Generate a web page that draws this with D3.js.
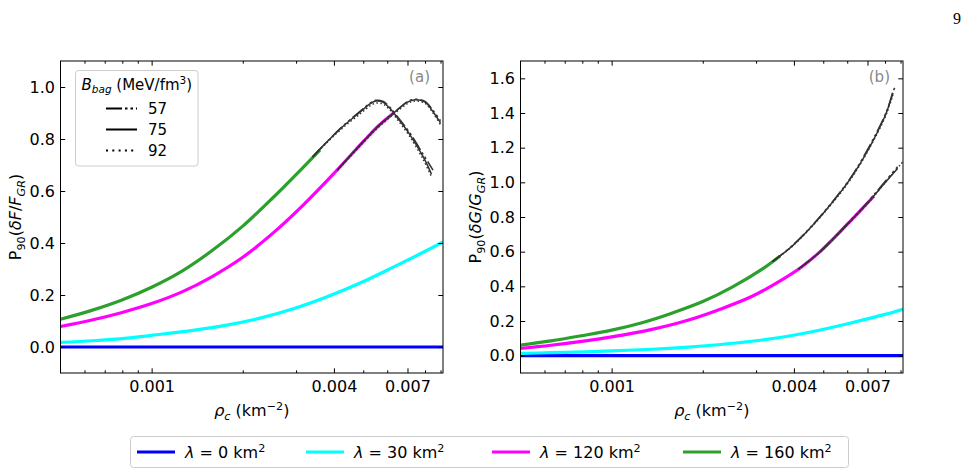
<!DOCTYPE html>
<html>
<head>
<meta charset="utf-8">
<script src="https://cdn.jsdelivr.net/npm/d3@7"></script>
<style>
  body { margin: 0; background: #fff; }
  svg { font-family: 'DejaVu Sans', sans-serif; }
</style>
</head>
<body>
<svg id="chart" width="969" height="476"></svg>
<script>
// ---- data ----
const lambdaLabels = ['0', '30', '120', '160'];
const bagLabels = ['57', '75', '92'];

const xMajorTicks = [0.001, 0.004, 0.007];
const xMajorLabels = ['0.001', '0.004', '0.007'];
const xMinorTicks = [0.0006, 0.0007, 0.0008, 0.0009, 0.002, 0.003, 0.005, 0.006, 0.008, 0.009];
const yTicksA = [0, 0.2, 0.4, 0.6, 0.8, 1.0];
const yTicksB = [0, 0.2, 0.4, 0.6, 0.8, 1.0, 1.2, 1.4, 1.6];

// panel (a): P90(dF/F_GR), coloured parts [rho_c, value]
const aLam0 = [[0.0005, 0], [0.00917, 0]];
const aLam30 = [[0.0005, 0.018], [0.00064, 0.024], [0.00083, 0.034], [0.001, 0.045], [0.00137, 0.064],
  [0.00177, 0.084], [0.00228, 0.111], [0.00294, 0.147], [0.00378, 0.192], [0.00488, 0.246],
  [0.00628, 0.307], [0.0081, 0.371], [0.00917, 0.404]];
const aLam120 = [[0.0005, 0.079], [0.00063, 0.103], [0.000794, 0.132], [0.001, 0.167], [0.00126, 0.212],
  [0.00158, 0.27], [0.002, 0.345], [0.00251, 0.437], [0.00316, 0.545], [0.00398, 0.665],
  [0.00501, 0.791], [0.00562, 0.851], [0.0063, 0.9]];
const aLam160 = [[0.0005, 0.107], [0.00063, 0.14], [0.000794, 0.18], [0.001, 0.23], [0.00126, 0.292],
  [0.00158, 0.37], [0.002, 0.465], [0.00251, 0.573], [0.00316, 0.69], [0.00342, 0.731], [0.0036, 0.758]];

// panel (a): black continuations for the three B_bag values
const aBlk120_57 = [[0.0041, 0.68], [0.00501, 0.792], [0.00562, 0.852], [0.0063, 0.9], [0.007, 0.944], [0.0074, 0.953], [0.008, 0.945], [0.0085, 0.91], [0.009, 0.87]];
const aBlk120_75 = [[0.0041, 0.68], [0.00501, 0.791], [0.00562, 0.851], [0.0063, 0.9], [0.007, 0.942], [0.0074, 0.951], [0.008, 0.942], [0.0085, 0.905], [0.009, 0.862]];
const aBlk120_92 = [[0.0041, 0.678], [0.00501, 0.787], [0.00562, 0.846], [0.0063, 0.895], [0.007, 0.936], [0.0074, 0.946], [0.008, 0.937], [0.0085, 0.9], [0.009, 0.855]];
const aBlk160_57 = [[0.0034, 0.731], [0.0038, 0.79], [0.0043, 0.852], [0.0049, 0.908], [0.00526, 0.938], [0.0055, 0.949], [0.0058, 0.945], [0.0061, 0.924], [0.0065, 0.885], [0.0071, 0.826], [0.0079, 0.74], [0.0085, 0.68]];
const aBlk160_75 = [[0.0034, 0.731], [0.0038, 0.79], [0.0043, 0.85], [0.0049, 0.905], [0.00526, 0.935], [0.0055, 0.946], [0.0058, 0.942], [0.0061, 0.92], [0.0065, 0.88], [0.0071, 0.82], [0.0079, 0.73], [0.0084, 0.665]];
const aBlk160_92 = [[0.0034, 0.731], [0.0038, 0.787], [0.0043, 0.845], [0.0049, 0.898], [0.00526, 0.927], [0.0055, 0.938], [0.0058, 0.935], [0.0061, 0.914], [0.0065, 0.873], [0.0071, 0.812], [0.0079, 0.72], [0.0084, 0.655]];

// panel (b): P90(dG/G_GR), coloured parts
const bLam0 = [[0.0005, 0], [0.00917, 0]];
const bLam30 = [[0.0005, 0.013], [0.00063, 0.017], [0.00082, 0.022], [0.001, 0.028], [0.00136, 0.037],
  [0.00175, 0.048], [0.00225, 0.063], [0.0029, 0.083], [0.00373, 0.109], [0.00481, 0.145],
  [0.00621, 0.19], [0.008, 0.238], [0.00917, 0.268]];
const bLam120 = [[0.0005, 0.042], [0.00063, 0.06], [0.00082, 0.085], [0.001, 0.108], [0.00136, 0.152],
  [0.00175, 0.2], [0.00225, 0.264], [0.0029, 0.341], [0.00373, 0.448], [0.00424, 0.512],
  [0.00481, 0.59], [0.00547, 0.685], [0.00621, 0.785], [0.00704, 0.885], [0.00735, 0.92]];
const bLam160 = [[0.0005, 0.061], [0.00063, 0.085], [0.00079, 0.114], [0.001, 0.147], [0.00126, 0.19],
  [0.00158, 0.245], [0.002, 0.312], [0.00251, 0.397], [0.00316, 0.502], [0.0036, 0.575]];

const bBlk120_57 = [[0.00414, 0.5], [0.00481, 0.59], [0.00547, 0.687], [0.00621, 0.788], [0.00704, 0.89], [0.008, 1.005], [0.0088, 1.09]];
const bBlk120_75 = [[0.00414, 0.5], [0.00481, 0.59], [0.00547, 0.685], [0.00621, 0.785], [0.00704, 0.885], [0.008, 0.998], [0.0088, 1.08]];
const bBlk120_92 = [[0.00414, 0.498], [0.00481, 0.587], [0.00547, 0.682], [0.00621, 0.782], [0.00704, 0.882], [0.008, 0.997], [0.00917, 1.12]];
const bBlk160_57 = [[0.0034, 0.543], [0.00398, 0.64], [0.00501, 0.826], [0.00631, 1.055], [0.00794, 1.375], [0.0083, 1.465], [0.0085, 1.525], [0.0087, 1.56]];
const bBlk160_75 = [[0.0034, 0.543], [0.00398, 0.638], [0.00501, 0.823], [0.00631, 1.05], [0.00794, 1.37], [0.0083, 1.46], [0.0085, 1.515]];
const bBlk160_92 = [[0.0034, 0.543], [0.00398, 0.636], [0.00501, 0.82], [0.00631, 1.045], [0.00794, 1.362], [0.0083, 1.452], [0.0085, 1.505]];

// ---- styles ----
const lambdaColors = ['#0000ff', '#00ffff', '#ff00ff', '#2ca02c'];
const bagDash = ['14,3,2.5,3,2.5,3', null, '1.5,2.5'];
const blackColor = '#333';

const svg = d3.select('#chart');
const FS = 16;

// text with sub/superscripts and italics
function richText(parent, x, y, parts, size, anchor) {
  const t = parent.append('text')
    .attr('x', x).attr('y', y)
    .attr('text-anchor', anchor || 'start')
    .style('font-size', size + 'px');
  let shift = 0;
  parts.forEach(p => {
    const s = t.append('tspan').text(p.t);
    let target = 0;
    if (p.sub) target = 0.22 * size;
    if (p.sup) target = -0.38 * size;
    if (target !== shift) { s.attr('dy', target - shift); shift = target; }
    if (p.sub || p.sup) s.style('font-size', (size * 0.7) + 'px');
    if (p.i) s.style('font-style', 'italic');
  });
  return t;
}

function drawPanel(cfg) {
  const x = d3.scaleLog().domain([0.0005, 0.00917]).range([cfg.left, cfg.right]);
  const y = d3.scaleLinear().domain(cfg.yDomain).range([cfg.bottom, cfg.top]);
  const g = svg.append('g');

  g.append('clipPath').attr('id', 'clip-' + cfg.id)
    .append('rect')
    .attr('x', cfg.left).attr('y', cfg.top)
    .attr('width', cfg.right - cfg.left).attr('height', cfg.bottom - cfg.top);

  const line = d3.line()
    .x(d => x(d[0])).y(d => y(d[1]))
    .curve(d3.curveCatmullRom.alpha(0.5));

  const plot = g.append('g').attr('clip-path', `url(#clip-${cfg.id})`);

  // coloured curves
  cfg.series.forEach((s, i) => {
    plot.append('path')
      .datum(s)
      .attr('d', line)
      .attr('fill', 'none')
      .attr('stroke', lambdaColors[i])
      .attr('stroke-width', 3.2);
  });

  // black continuations, one per B_bag
  cfg.black.forEach(group => {
    group.forEach((s, k) => {
      plot.append('path')
        .datum(s)
        .attr('d', line)
        .attr('fill', 'none')
        .attr('stroke', blackColor)
        .attr('stroke-width', 1.5)
        .attr('stroke-dasharray', bagDash[k]);
    });
  });

  // axes with inward ticks on all sides
  const major = 4.7, minor = 2.7;
  const addAxis = (axis, tx, ty) => {
    const a = g.append('g').attr('transform', `translate(${tx},${ty})`).call(axis);
    a.select('.domain').remove();
    a.selectAll('line').attr('stroke', '#000').attr('stroke-width', 1);
    a.selectAll('text').style('font-size', FS + 'px')
      .style('font-family', "'DejaVu Sans', sans-serif").attr('fill', '#000');
    return a;
  };

  addAxis(d3.axisBottom(x).tickValues(xMajorTicks)
    .tickFormat((d, i) => xMajorLabels[i]).tickSizeInner(-major).tickSizeOuter(0).tickPadding(8), 0, cfg.bottom);
  addAxis(d3.axisBottom(x).tickValues(xMinorTicks).tickFormat('').tickSizeInner(-minor).tickSizeOuter(0), 0, cfg.bottom);
  addAxis(d3.axisTop(x).tickValues(xMajorTicks).tickFormat('').tickSizeInner(-major).tickSizeOuter(0), 0, cfg.top);
  addAxis(d3.axisTop(x).tickValues(xMinorTicks).tickFormat('').tickSizeInner(-minor).tickSizeOuter(0), 0, cfg.top);
  addAxis(d3.axisLeft(y).tickValues(cfg.yTicks).tickFormat(d3.format('.1f'))
    .tickSizeInner(-major).tickSizeOuter(0).tickPadding(5.5), cfg.left, 0);
  addAxis(d3.axisRight(y).tickValues(cfg.yTicks).tickFormat('').tickSizeInner(-major).tickSizeOuter(0), cfg.right, 0);

  // frame
  g.append('rect')
    .attr('x', cfg.left).attr('y', cfg.top)
    .attr('width', cfg.right - cfg.left).attr('height', cfg.bottom - cfg.top)
    .attr('fill', 'none').attr('stroke', '#000').attr('stroke-width', 1);

  // panel tag
  g.append('text')
    .attr('x', cfg.right - 13).attr('y', cfg.top + 21)
    .attr('text-anchor', 'end')
    .attr('fill', '#888')
    .style('font-size', '15px')
    .text(`(${cfg.id})`);

  // x label
  richText(g, (cfg.left + cfg.right) / 2, 416, [
    { t: 'ρ', i: true }, { t: 'c', i: true, sub: true }, { t: ' (km' }, { t: '−2', sup: true }, { t: ')' }
  ], FS, 'middle');

  // y label
  const yl = richText(g, 0, 0, [
    { t: 'P' }, { t: '90', sub: true }, { t: '(' }, { t: 'δ' + cfg.q, i: true }, { t: '/' },
    { t: cfg.q, i: true }, { t: 'GR', i: true, sub: true }, { t: ')' }
  ], FS, 'middle');
  yl.attr('transform', `translate(${cfg.ylabelX},${(cfg.top + cfg.bottom) / 2}) rotate(-90)`);

  return { x, y, g };
}

drawPanel({
  id: 'a', left: 60.5, right: 443, top: 61, bottom: 373,
  yDomain: [-0.1, 1.1], yTicks: yTicksA, q: 'F', ylabelX: 21,
  series: [aLam0, aLam30, aLam120, aLam160],
  black: [[aBlk120_57, aBlk120_75, aBlk120_92], [aBlk160_57, aBlk160_75, aBlk160_92]]
});

drawPanel({
  id: 'b', left: 520.5, right: 903, top: 61, bottom: 373,
  yDomain: [-0.1, 1.7], yTicks: yTicksB, q: 'G', ylabelX: 481,
  series: [bLam0, bLam30, bLam120, bLam160],
  black: [[bBlk120_57, bBlk120_75, bBlk120_92], [bBlk160_57, bBlk160_75, bBlk160_92]]
});

// B_bag legend in panel (a)
const lg = svg.append('g');
lg.append('rect')
  .attr('x', 75.5).attr('y', 70.5).attr('width', 122.5).attr('height', 95.5)
  .attr('rx', 3).attr('fill', '#fff').attr('fill-opacity', 0.85)
  .attr('stroke', '#ccc').attr('stroke-width', 1);
richText(lg, 81.5, 90, [
  { t: 'B', i: true }, { t: 'bag', i: true, sub: true }, { t: ' (MeV/fm' }, { t: '3', sup: true }, { t: ')' }
], 15);
bagLabels.forEach((lab, k) => {
  const cy = 108.5 + k * 21;
  lg.append('line')
    .attr('x1', 106).attr('x2', 137).attr('y1', cy).attr('y2', cy)
    .attr('stroke', '#000').attr('stroke-width', 2)
    .attr('stroke-dasharray', k === 0 ? '16,3,2.5,3,2.5,3' : k === 2 ? '2,4.3' : null);
  lg.append('text')
    .attr('x', 148).attr('y', cy + 5.5)
    .style('font-size', '15px')
    .text(lab);
});

// lambda legend at the bottom
const bl = svg.append('g');
bl.append('rect')
  .attr('x', 130.5).attr('y', 436.5).attr('width', 718).attr('height', 31)
  .attr('rx', 3).attr('fill', '#fff')
  .attr('stroke', '#ccc').attr('stroke-width', 1);
const lineX = [137, 306, 492, 683];
lambdaLabels.forEach((lab, i) => {
  bl.append('line')
    .attr('x1', lineX[i]).attr('x2', lineX[i] + 38)
    .attr('y1', 452).attr('y2', 452)
    .attr('stroke', lambdaColors[i]).attr('stroke-width', 3);
  richText(bl, lineX[i] + 48, 458, [
    { t: 'λ', i: true }, { t: ' = ' + lab + ' km' }, { t: '2', sup: true }
  ], FS);
});

// page number
svg.append('text')
  .attr('x', 961).attr('y', 24)
  .attr('text-anchor', 'end')
  .style('font-family', "'Liberation Serif', serif")
  .style('font-size', '16px')
  .text('9');
</script>
</body>
</html>
